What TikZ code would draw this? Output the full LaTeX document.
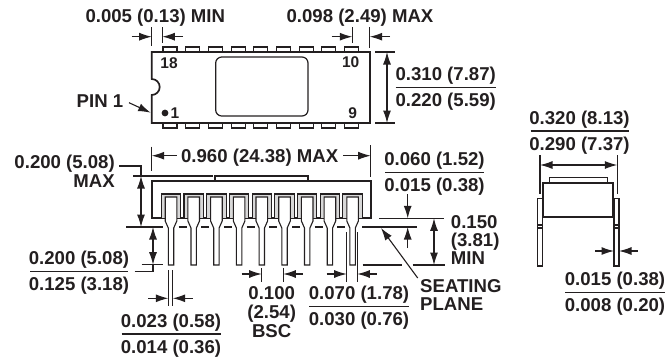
\documentclass[tikz,border=0pt]{standalone}
\usepackage{fontspec}
\setmainfont{Liberation Sans}
\usepackage{xcolor}
\usetikzlibrary{arrows.meta}
\definecolor{ink}{HTML}{231F20}
\definecolor{leadgray}{HTML}{D8D8D8}
\tikzset{
  dimtext/.style={font=\fontsize{18.6}{20}\selectfont\bfseries, text=ink, inner sep=0pt, anchor=base},
  pintext/.style={font=\fontsize{15.5}{18}\selectfont\bfseries, text=ink, inner sep=0pt, anchor=base},
  dimline/.style={draw=ink, line width=1.1pt},
  dimarrow/.style={draw=ink, line width=1.1pt, -{Latex[length=12.5pt,width=8pt]}},
  bothways/.style={draw=ink, line width=1.1pt, {Latex[length=12.5pt,width=8pt]}-{Latex[length=12.5pt,width=8pt]}},
  outline/.style={draw=ink, line width=1.7pt, line join=miter},
  thinpart/.style={draw=ink, line width=1.1pt}
}
% two-line tolerance label with a bar: name, centre x, bar y, half width, upper, lower
\newcommand{\tolbar}[6]{
  \node [dimtext] (#1top) at (#2,#3-7) {#5};
  \node [dimtext] (#1bot) at (#2,#3+19) {#6};
  \draw [dimline, line width=1.3pt] (#2-#4,#3) -- (#2+#4,#3);
}
\begin{document}
\begin{tikzpicture}[x=1pt,y=-1pt]
    \useasboundingbox (0,0) rectangle (668,357);

    % Top view
    \draw [outline] (151.7,79) arc [start angle=90, end angle=-90, radius=8pt]
      -- (151.7,123) -- (370,123) -- (370,52) -- (151.7,52) -- cycle;
    \draw [thinpart, line width=1.2pt, rounded corners=6pt] (215.7,57) rectangle (308,116);
    \foreach \i in {0,...,8} {
      \pgfmathsetmacro\pinx{163+22.7*\i}
      \draw [thinpart] (\pinx,52) -- (\pinx,47) -- (\pinx+14,47) -- (\pinx+14,52);
      \draw [thinpart] (\pinx,123) -- (\pinx,128) -- (\pinx+14,128) -- (\pinx+14,123);
    }
    \fill [ink] (165,113) circle (3.4pt);
    \node [pintext] (pin18) at (169,68.5) {18};
    \node [pintext] (pin10) at (350.7,67.5) {10};
    \node [pintext] (pinone) at (175,118.8) {1};
    \node [pintext] (pinnine) at (352.7,118.8) {9};
    \node [dimtext] (pinlabel) at (100,107) {PIN 1};
    \coordinate (pinmark) at (150.7,112.7);
    \draw [dimarrow] (129,102.7) -- (pinmark);

    % Top view dimensions
    \node [dimtext] (gapmin) at (155.3,22.7) {0.005 (0.13) MIN};
    \node [dimtext] (gapmax) at (360,22.7) {0.098 (2.49) MAX};
    \draw [dimline] (151.7,27) -- (151.7,46);
    \draw [dimline] (162.3,27) -- (162.3,43);
    \draw [dimline] (352.3,27) -- (352.3,43);
    \draw [dimline] (369.7,27) -- (369.7,48);
    \draw [dimarrow] (131.7,36.7) -- (151.7,36.7);
    \draw [dimarrow] (183,36.7) -- (162.3,36.7);
    \draw [dimarrow] (331.7,36.7) -- (352.3,36.7);
    \draw [dimarrow] (390,36.7) -- (369.7,36.7);
    \draw [dimline] (375,52) -- (395,52);
    \draw [dimline] (375,123) -- (395,123);
    \draw [bothways] (387,52) -- (387,123);
    \tolbar{width}{445.7}{87.3}{50}{0.310 (7.87)}{0.220 (5.59)}

    % Front view
    \draw [thinpart] (215,181) -- (215,176) -- (308,176) -- (308,181);
    \draw [outline] (151.7,181) rectangle (370.7,217.7);
    \foreach \i in {0,...,8} {
      \pgfmathsetmacro\pinx{171+22.7*\i}
      \draw [thinpart, fill=leadgray] (\pinx-9.7,217.7) -- (\pinx-9.7,194)
        -- (\pinx+9.7,194) -- (\pinx+9.7,217.7);
      \draw [thinpart, fill=white] (\pinx-5.8,197) -- (\pinx+5.8,197) -- (\pinx+5.8,221)
        -- (\pinx+2.7,228) -- (\pinx+2.7,265) -- (\pinx-2.7,265) -- (\pinx-2.7,228)
        -- (\pinx-5.8,221) -- cycle;
    }
    \foreach \i in {0,...,7} {
      \pgfmathsetmacro\pinx{171+22.7*\i}
      \draw [dimline] (\pinx+7.5,227) -- (\pinx+15.5,227);
    }

    % Front view dimensions
    \node [dimtext] (length) at (259.7,162.4) {0.960 (24.38) MAX};
    \draw [dimline] (151.7,146.7) -- (151.7,170.7);
    \draw [dimline] (370.7,145) -- (370.7,177);
    \draw [dimarrow] (176.7,155.7) -- (151.7,155.7);
    \draw [dimarrow] (343,155.7) -- (370.7,155.7);
    \draw [dimline] (133,176) -- (212.7,176);
    \draw [dimline] (126,227) -- (163,227);
    \draw [dimline] (119,166) -- (141,166) -- (141,176);
    \draw [bothways] (141,176) -- (141,227);
    \node [dimtext, anchor=base east] (heightmax) at (115,168.4) {0.200 (5.08)};
    \node [dimtext, anchor=base east] (heightword) at (115,187.6) {MAX};
    \draw [dimline] (141.7,264.7) -- (163,264.7);
    \draw [dimline] (134.7,271.7) -- (153,271.7) -- (153,264.7);
    \draw [bothways] (153,227) -- (153,264.7);
    \tolbar{leadlen}{79}{271.7}{49}{0.200 (5.08)}{0.125 (3.18)}
    \tolbar{lift}{434.5}{172.3}{49.5}{0.060 (1.52)}{0.015 (0.38)}
    \draw [dimline] (379,218.3) -- (444,218.3);
    \draw [dimline] (362,227) -- (417,227);
    \draw [dimline] (362.7,265) -- (402,265);
    \draw [dimline] (412.7,265) -- (445,265);
    \draw [dimarrow] (407.7,194) -- (407.7,218.3);
    \draw [dimarrow] (407.7,248) -- (407.7,227);
    \draw [bothways] (434,218.3) -- (434,265);
    \node [dimtext, anchor=base west] (seatone) at (450.7,228.4) {0.150};
    \node [dimtext, anchor=base west] (seattwo) at (450.7,246.4) {(3.81)};
    \node [dimtext, anchor=base west] (seatthree) at (450.7,264.4) {MIN};
    \draw [dimarrow] (417.7,278) -- (381,228);
    \node [dimtext, anchor=base west] (seating) at (420,292.5) {SEATING};
    \node [dimtext, anchor=base west] (plane) at (420,310) {PLANE};

    % Lead dimensions
    \draw [dimline] (168.3,270) -- (168.3,306);
    \draw [dimline] (172.7,270) -- (172.7,306);
    \draw [dimarrow] (148,298.3) -- (168.3,298.3);
    \draw [dimarrow] (192.7,298.3) -- (172.7,298.3);
    \tolbar{leadwidth}{171}{334}{49.5}{0.023 (0.58)}{0.014 (0.36)}
    \draw [dimline] (261.7,268) -- (261.7,281.7);
    \draw [dimline] (283.3,268) -- (283.3,281.7);
    \draw [dimarrow] (241.7,274) -- (261.7,274);
    \draw [dimarrow] (302.7,274) -- (283.3,274);
    \node [dimtext] (pitch) at (271.7,299.4) {0.100};
    \node [dimtext] (pitchmm) at (271.7,318.7) {(2.54)};
    \node [dimtext] (pitchbsc) at (271.7,337.4) {BSC};
    \draw [dimline] (346.7,232) -- (346.7,281.7);
    \draw [dimline] (357.3,232) -- (357.3,281.7);
    \draw [dimarrow] (326.7,274) -- (346.7,274);
    \draw [dimarrow] (376.7,274) -- (357.3,274);
    \tolbar{shoulder}{359}{306.7}{50}{0.070 (1.78)}{0.030 (0.76)}

    % End view
    \draw [thinpart] (549.3,182.7) -- (549.3,177.3) -- (607.3,177.3) -- (607.3,182.7);
    \draw [outline] (543.3,182.7) rectangle (612.7,217.3);
    \draw [thinpart] (537.3,198.3) rectangle (542.3,266);
    \draw [thinpart] (614,198.3) rectangle (619,266);
    \draw [thinpart] (537.3,225) -- (542.3,225);
    \draw [thinpart] (537.3,228) -- (542.3,228);
    \draw [thinpart] (614,225) -- (619,225);
    \draw [thinpart] (614,228) -- (619,228);
    \draw [dimline] (540,155) -- (540,194.3);
    \draw [dimline] (617.3,155) -- (617.3,194.3);
    \draw [bothways] (540,165) -- (617.3,165);
    \tolbar{span}{579.5}{131}{49}{0.320 (8.13)}{0.290 (7.37)}
    \draw [dimarrow] (595,251) -- (614,251);
    \draw [dimarrow] (637.7,251) -- (619,251);
    \tolbar{thick}{615}{292.3}{50}{0.015 (0.38)}{0.008 (0.20)}
\end{tikzpicture}
\end{document}
